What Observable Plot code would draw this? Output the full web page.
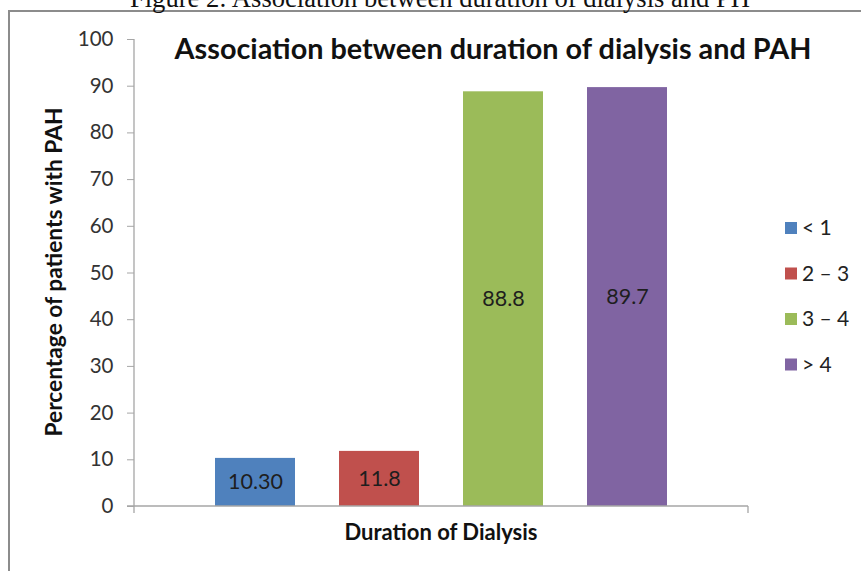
<!DOCTYPE html>
<html>
<head>
<meta charset="utf-8">
<script src="https://cdn.jsdelivr.net/npm/d3@7"></script>
<script src="https://cdn.jsdelivr.net/npm/@observablehq/plot@0.6"></script>
<style>
  body { margin: 0; background: #fff; }
  #wrap { position: relative; width: 861px; height: 571px; overflow: hidden; background: #fff; }
  #frame { position: absolute; left: 8px; top: 10px; width: 900px; height: 600px;
           border-left: 2px solid #8c8c8c; border-top: 2px solid #8c8c8c; }
  #chart, #overlay { position: absolute; left: 0; top: 0; }
</style>
</head>
<body>
<div id="wrap">
  <div id="frame"></div>
  <div id="chart"></div>
  <svg id="overlay" width="861" height="571"></svg>
</div>
<script>
const categories = ["< 1", "2 – 3", "3 – 4", "> 4"];
const values = [10.3, 11.8, 88.8, 89.7];
const valueLabels = ["10.30", "11.8", "88.8", "89.7"];
const colors = ["#4F81BD", "#C0504D", "#9BBB59", "#8064A2"];
const yTicks = [0, 10, 20, 30, 40, 50, 60, 70, 80, 90, 100];
const captionText = "Figure 2: Association between duration of dialysis and PH";
const titleText = "Association between duration of dialysis and PAH";
const yLabel = "Percentage of patients with PAH";
const xLabel = "Duration of Dialysis";

const data = categories.map((c, i) => ({cat: c, value: values[i], label: valueLabels[i]}));

const axisLines = (index, scales, vals, dims) => {
  const x0 = dims.marginLeft, x1 = dims.width - dims.marginRight;
  const y0 = dims.height - dims.marginBottom, yt = dims.marginTop;
  const g = d3.create("svg:g").attr("stroke", "#a6a6a6").attr("fill", "none").attr("stroke-width", 1.3);
  g.append("path").attr("d", `M${x0},${yt}V${y0 + 7}M${x0 - 7},${y0}H${x1}M${x1},${y0}V${y0 + 7}`);
  return g.node();
};

const plot = Plot.plot({
  width: 861,
  height: 571,
  marginLeft: 134,
  marginRight: 113,
  marginTop: 39,
  marginBottom: 65,
  style: {fontFamily: "Lato, sans-serif", background: "transparent", color: "#333"},
  x: {domain: categories, paddingInner: 0.357, paddingOuter: 0.643, axis: null},
  y: {domain: [0, 100], axis: null},
  color: {domain: categories, range: colors},
  marks: [
    Plot.barY(data, {x: "cat", y: "value", fill: "cat"}),
    Plot.text(data, {x: "cat", y: d => d.value / 2, text: "label", fill: "#1e1e1e", fontSize: 21.5}),
    Plot.axisY({ticks: yTicks, tickSize: 7, tickPadding: 14, stroke: "#a6a6a6", fill: "#333", fontSize: 20.5, label: null, tickFormat: d3.format("d")}),
    axisLines
  ]
});
document.getElementById("chart").appendChild(plot);

const svg = d3.select("#overlay");
function fit(sel, target) {
  const w = sel.node().getComputedTextLength();
  const fs = parseFloat(sel.attr("font-size"));
  sel.attr("font-size", (fs * target / w).toFixed(2));
}

const cap = svg.append("text").attr("x", 440).attr("y", 7).attr("text-anchor", "middle")
  .attr("font-family", "Liberation Serif, serif").attr("font-size", 24).attr("fill", "#111").text(captionText);
fit(cap, 620);

const title = svg.append("text").attr("x", 493).attr("y", 59).attr("text-anchor", "middle")
  .attr("font-family", "Lato, sans-serif").attr("font-weight", "bold").attr("font-size", 22).attr("fill", "#111").text(titleText);
fit(title, 637);

const yl = svg.append("text").attr("transform", "translate(62,272) rotate(-90)").attr("text-anchor", "middle")
  .attr("font-family", "Lato, sans-serif").attr("font-weight", "bold").attr("font-size", 18).attr("fill", "#111").text(yLabel);
fit(yl, 329);

const xl = svg.append("text").attr("x", 441).attr("y", 540).attr("text-anchor", "middle")
  .attr("font-family", "Lato, sans-serif").attr("font-weight", "bold").attr("font-size", 18).attr("fill", "#111").text(xLabel);
fit(xl, 193);

const colorScale = plot.scale("color");
const leg = svg.append("g").attr("font-family", "Lato, sans-serif").attr("font-size", 21).attr("fill", "#222");
categories.forEach((c, i) => {
  const cy = 228 + i * 45.5;
  leg.append("rect").attr("x", 785).attr("y", cy - 6).attr("width", 12).attr("height", 12)
    .attr("fill", colorScale.apply(c));
  leg.append("text").attr("x", 802).attr("y", cy).attr("dy", "0.35em").text(c);
});
</script>
</body>
</html>
